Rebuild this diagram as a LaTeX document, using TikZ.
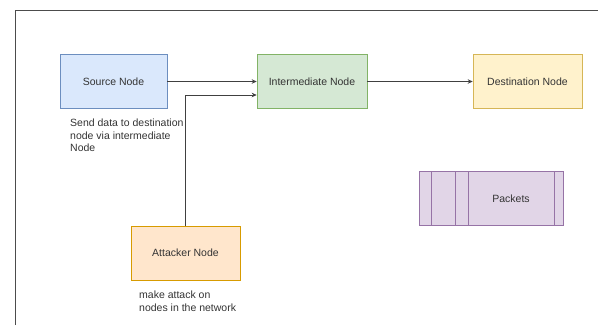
\documentclass[tikz,border=0pt]{standalone}
\usepackage{fontspec}
\setmainfont{Liberation Sans}
\usetikzlibrary{arrows.meta, positioning, calc}
\definecolor{srcfill}{HTML}{DAE8FC}
\definecolor{srcstroke}{HTML}{6C8EBF}
\definecolor{intfill}{HTML}{D5E8D4}
\definecolor{intstroke}{HTML}{82B366}
\definecolor{dstfill}{HTML}{FFF2CC}
\definecolor{dststroke}{HTML}{D6B656}
\definecolor{atkfill}{HTML}{FFE6CC}
\definecolor{atkstroke}{HTML}{D79B00}
\definecolor{pktfill}{HTML}{E1D5E7}
\definecolor{pktstroke}{HTML}{9673A6}
\definecolor{txtgray}{HTML}{333333}

\begin{document}
\begin{tikzpicture}[
    x=1pt, y=-1pt,
    every node/.style={font=\fontsize{10.5}{12.5}\selectfont, text=txtgray},
    blk/.style={draw, line width=0.6pt, inner sep=0pt, minimum width=109pt, minimum height=54pt, align=center},
    note/.style={anchor=north west, inner sep=0pt, align=left},
    arr/.style={-{Stealth[length=5pt, width=4.5pt]}, line width=0.8pt, black!75},
    frame/.style={line width=0.8pt, black!70}
]
\useasboundingbox (0,0) rectangle (598,325);
\draw[frame] (15,325) -- (15,10) -- (598,10);

\node[blk, draw=srcstroke, fill=srcfill, minimum width=107pt] (src) at (113.5,81.5) {Source Node};
\node[blk, draw=intstroke, fill=intfill, minimum width=110pt] (int) at (312,81.5) {Intermediate Node};
\node[blk, draw=dststroke, fill=dstfill] (dst) at (527.5,81.5) {Destination Node};
\node[blk, draw=atkstroke, fill=atkfill] (atk) at (185.5,253) {Attacker Node};

% packets box with its dividers
\node[blk, draw=pktstroke, fill=pktfill, minimum width=144pt] (pkt) at (491,198.5) {};
\foreach \x in {431,455,468,554}
  \draw[pktstroke, line width=0.6pt] (\x,171.5) -- (\x,225.5);
\node (pktlbl) at (511,198.5) {Packets};

\node[note] (srcnote) at (70,119) {Send data to destination\\node via intermediate\\Node};
\node[note] (atknote) at (139,291) {make attack on\\nodes in the network};

\draw[arr] (src) -- (int);
\draw[arr] (int) -- (dst);
\draw[arr] (atk.north) |- ([yshift=-13.5pt]int.west);

\end{tikzpicture}
\end{document}
